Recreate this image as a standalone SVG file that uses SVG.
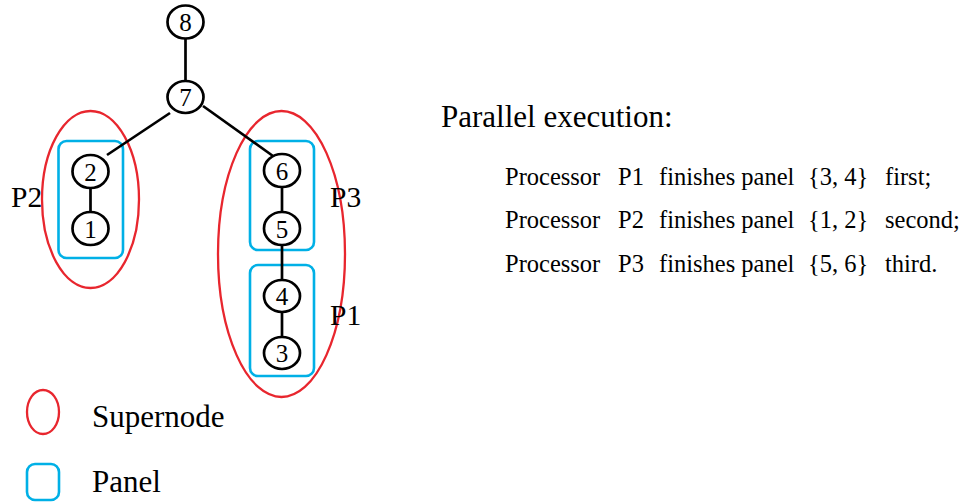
<svg xmlns="http://www.w3.org/2000/svg" width="964" height="503" viewBox="0 0 964 503">
<style>
text{font-family:"Liberation Serif","Times New Roman",serif;fill:#000}
.n ellipse{fill:#fff;stroke:#000;stroke-width:2.7}
.n text{font-size:25px;text-anchor:middle}
.sn{fill:none;stroke:#e8262e;stroke-width:2.3}
.pn{fill:none;stroke:#00b0e6;stroke-width:2.6}
.e line{stroke:#000;stroke-width:2.7}
.lbl{font-size:29.5px}
.row{font-size:24.5px}
</style>
<rect width="964" height="503" fill="#fff"/>
<g id="supernodes">
<ellipse class="sn" cx="90.5" cy="199.5" rx="48.5" ry="88.5"/>
<ellipse class="sn" cx="281.5" cy="254" rx="63.5" ry="143"/>
</g>
<g id="panels">
<rect class="pn" x="58.5" y="141" width="64.5" height="117" rx="8"/>
<rect class="pn" x="250" y="141" width="64" height="109" rx="8"/>
<rect class="pn" x="250" y="265" width="64" height="111" rx="8"/>
</g>
<g id="connectors" class="e">
<line x1="185.5" y1="39" x2="185.5" y2="81"/>
<line x1="170" y1="113" x2="107" y2="155"/>
<line x1="203" y1="106" x2="273" y2="156"/>
<line x1="90.5" y1="188" x2="90.5" y2="212"/>
<line x1="282" y1="187" x2="282" y2="212"/>
<line x1="282" y1="245" x2="282" y2="280"/>
<line x1="282" y1="312" x2="282" y2="337"/>
</g>
<g id="node8" class="n"><ellipse cx="185.5" cy="22" rx="18" ry="16.5"/><text x="185.5" y="31">8</text></g>
<g id="node7" class="n"><ellipse cx="185.5" cy="97" rx="18" ry="16"/><text x="185.5" y="106">7</text></g>
<g id="node2" class="n"><ellipse cx="90.5" cy="171.5" rx="18" ry="16.5"/><text x="90.5" y="180.5">2</text></g>
<g id="node1" class="n"><ellipse cx="90.5" cy="228.5" rx="18" ry="16.5"/><text x="90.5" y="237.5">1</text></g>
<g id="node6" class="n"><ellipse cx="282" cy="170.5" rx="18" ry="16.5"/><text x="282" y="179.5">6</text></g>
<g id="node5" class="n"><ellipse cx="282" cy="228.5" rx="18" ry="16.5"/><text x="282" y="237.5">5</text></g>
<g id="node4" class="n"><ellipse cx="282" cy="296" rx="18" ry="16"/><text x="282" y="305">4</text></g>
<g id="node3" class="n"><ellipse cx="282" cy="353" rx="18" ry="16"/><text x="282" y="362">3</text></g>
<g id="labels">
<text class="lbl" x="11" y="207">P2</text>
<text class="lbl" x="330" y="207">P3</text>
<text class="lbl" x="330" y="325">P1</text>
</g>
<g id="description">
<text x="441" y="127" font-size="31">Parallel execution:</text>
<g class="row">
<text x="505" y="185">Processor</text><text x="618" y="185">P1</text><text x="659" y="185">finishes panel</text><text x="808" y="185">{3, 4}</text><text x="885" y="185">first;</text>
<text x="505" y="228">Processor</text><text x="618" y="228">P2</text><text x="659" y="228">finishes panel</text><text x="808" y="228">{1, 2}</text><text x="885" y="228">second;</text>
<text x="505" y="272">Processor</text><text x="618" y="272">P3</text><text x="659" y="272">finishes panel</text><text x="808" y="272">{5, 6}</text><text x="885" y="272">third.</text>
</g>
</g>
<g id="legend">
<ellipse class="sn" cx="43" cy="412" rx="16" ry="22"/>
<text x="92" y="427" font-size="31">Supernode</text>
<rect class="pn" x="27" y="464" width="32" height="36" rx="8"/>
<text x="92" y="492" font-size="31">Panel</text>
</g>
</svg>
